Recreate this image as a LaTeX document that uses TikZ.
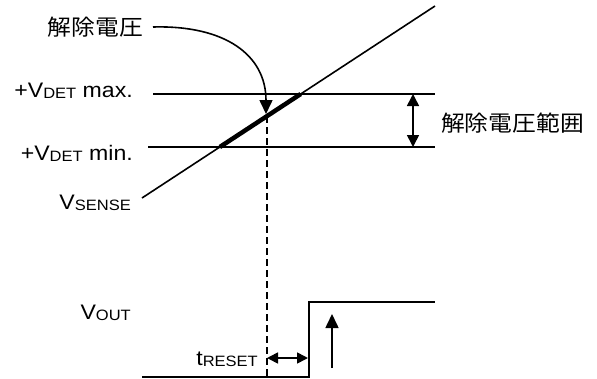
\documentclass[tikz,border=0pt]{standalone}
\usepackage{fontspec}
\setmainfont[FakeStretch=1.1]{Liberation Sans}
\newfontfamily\jpfont[FakeStretch=1.08]{Noto Sans CJK JP}
\usetikzlibrary{arrows.meta,calc}
\newcommand{\lowpart}[1]{\raisebox{-1.5pt}{\fontsize{15}{15}\selectfont #1}}
\tikzset{
  lbl/.style={inner sep=0pt, font=\fontsize{21}{21}\selectfont},
  jplbl/.style={inner sep=0pt, font=\fontsize{22}{22}\selectfont\jpfont},
  wire/.style={line width=1.6pt},
  bigtip/.style={-{Triangle[length=14pt,width=13pt]}},
  twotip/.style={{Triangle[length=#1,width=#1]}-{Triangle[length=#1,width=#1]}},
}
\begin{document}
\begin{tikzpicture}[x=1pt,y=-1pt]
\useasboundingbox (0,0) rectangle (597,378);

% labels
\node[jplbl, anchor=east] (rel) at (143,27) {解除電圧};
\node[jplbl, anchor=west] (range) at (441,123) {解除電圧範囲};
\node[lbl, anchor=base east] (vmax) at (133,97) {+V\lowpart{DET} max.};
\node[lbl, anchor=base east] (vmin) at (133,160) {+V\lowpart{DET} min.};
\node[lbl, anchor=base east] (vsense) at (131,209) {V\lowpart{SENSE}};
\node[lbl, anchor=base east] (vout) at (131,319) {V\lowpart{OUT}};
\node[lbl, anchor=base east] (treset) at (258,365) {t\lowpart{RESET}};

% levels and input ramp
\coordinate (s0) at (142,198);
\coordinate (s1) at (435,6);
\draw[wire] (153,94) -- (435,94);
\draw[wire] (148,147) -- (435,147);
\draw[wire] (s0) -- (s1);
\draw[line width=4.5pt] ($(s0)!{51/192}!(s1)$) -- ($(s0)!{104/192}!(s1)$);
\coordinate (hit) at ($(s0)!{82/192}!(s1)$);
\draw[wire, dash pattern=on 7pt off 4pt] (hit) -- (hit |- 0,378);

% release point arrow
\draw[wire, bigtip] (rel.east) ++(10,0) .. controls (225,25) and (266,55) .. (266,114);

% range arrow
\draw[wire, twotip=12pt] (413,94) -- (413,147);

% output
\draw[wire] (142,377) -- (309,377) -- (309,302) -- (435,302);
\draw[wire, bigtip] (332,368) -- (332,314);
\draw[wire, twotip=11pt] (267,358) -- (308,358);
\end{tikzpicture}
\end{document}
